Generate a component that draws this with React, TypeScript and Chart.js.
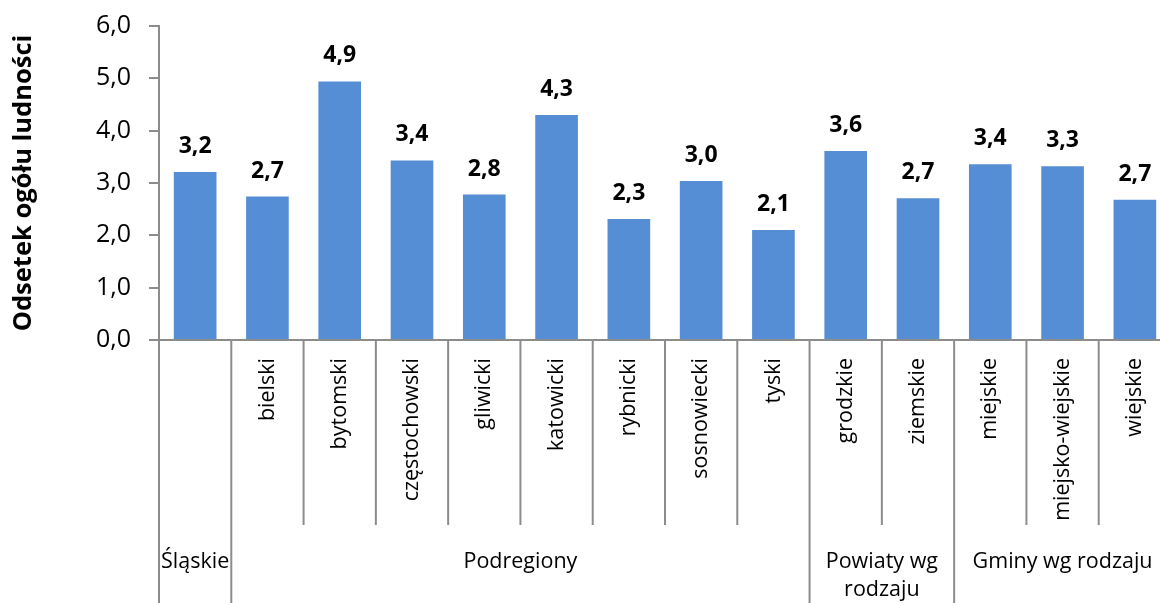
import React, { useEffect, useRef } from 'react';
import { Chart, registerables } from 'chart.js';

Chart.register(...registerables);

// ---- data ----
const categories: string[] = [
  '',
  'bielski',
  'bytomski',
  'częstochowski',
  'gliwicki',
  'katowicki',
  'rybnicki',
  'sosnowiecki',
  'tyski',
  'grodzkie',
  'ziemskie',
  'miejskie',
  'miejsko-wiejskie',
  'wiejskie',
];
const values: number[] = [3.21, 2.74, 4.94, 3.43, 2.78, 4.3, 2.31, 3.04, 2.1, 3.61, 2.71, 3.36, 3.32, 2.68];
const groupLabels: string[] = ['Śląskie', 'Podregiony', 'Powiaty wg\nrodzaju', 'Gminy wg rodzaju'];
const groupSizes: number[] = [1, 8, 2, 3];
const yTicks: number[] = [0, 1, 2, 3, 4, 5, 6];
const yTitle = 'Odsetek ogółu ludności';

const FONT = "'Open Sans', 'Noto Sans', sans-serif";
const AXIS = '#8c8c8c';
const BAR = '#558ED5';

const fmt = (v: number) => v.toFixed(1).replace('.', ',');

const groupPlugin = {
  id: 'groupAxis',
  afterDraw(chart: any) {
    const { ctx, chartArea, scales } = chart;
    const x = scales.x;
    const n = categories.length;
    const half = (x.getPixelForValue(1) - x.getPixelForValue(0)) / 2;
    const boundary = (i: number) => (i < n ? x.getPixelForValue(i) - half : x.getPixelForValue(n - 1) + half);
    const starts: number[] = [];
    let acc = 0;
    groupSizes.forEach((s) => {
      starts.push(acc);
      acc += s;
    });
    ctx.save();
    ctx.strokeStyle = AXIS;
    ctx.lineWidth = 2;
    for (let i = 0; i <= n; i++) {
      const bx = boundary(i);
      const isLong = starts.includes(i) || i === n;
      ctx.beginPath();
      ctx.moveTo(bx, chartArea.bottom);
      ctx.lineTo(bx, isLong ? chart.height : chartArea.bottom + 185);
      ctx.stroke();
    }
    // group labels
    ctx.fillStyle = '#000';
    ctx.font = `21.5px ${FONT}`;
    ctx.textAlign = 'center';
    ctx.textBaseline = 'middle';
    groupLabels.forEach((label, g) => {
      const a = boundary(starts[g]);
      const b = boundary(starts[g] + groupSizes[g]);
      const cx = (a + b) / 2;
      label.split('\n').forEach((line, li) => {
        ctx.fillText(line, cx, chartArea.bottom + 222 + li * 28);
      });
    });
    // data labels
    ctx.font = `bold 23px ${FONT}`;
    ctx.textBaseline = 'alphabetic';
    const meta = chart.getDatasetMeta(0);
    meta.data.forEach((bar: any, i: number) => {
      ctx.fillText(fmt(values[i]), bar.x, bar.y - 19);
    });
    ctx.restore();
  },
};

export default function App() {
  const ref = useRef<HTMLCanvasElement>(null);
  useEffect(() => {
    const canvas = ref.current;
    if (!canvas) return;
    Chart.defaults.font.family = FONT;
    const chart = new Chart(canvas, {
      type: 'bar',
      data: {
        labels: categories,
        datasets: [
          {
            data: values,
            backgroundColor: BAR,
            borderWidth: 0,
            barPercentage: 0.59,
            categoryPercentage: 1,
          },
        ],
      },
      options: {
        animation: false,
        responsive: false,
        devicePixelRatio: 1,
        layout: { padding: { top: 26, right: 20, bottom: 0, left: 0 } },
        plugins: { legend: { display: false }, tooltip: { enabled: false } },
        scales: {
          x: {
            grid: { display: false, drawTicks: false },
            border: { display: true, color: AXIS, width: 2 },
            ticks: {
              autoSkip: false,
              minRotation: 90,
              maxRotation: 90,
              padding: 18,
              color: '#000',
              font: { family: FONT, size: 21.5 },
            },
            afterFit: (s: any) => {
              s.height = 263;
            },
          },
          y: {
            min: yTicks[0],
            max: yTicks[yTicks.length - 1],
            afterBuildTicks: (s: any) => {
              s.ticks = yTicks.map((v) => ({ value: v }));
            },
            ticks: {
              padding: 18,
              color: '#000',
              font: { family: FONT, size: 25 },
              callback: (v: any) => fmt(Number(v)),
            },
            grid: { drawOnChartArea: false, drawTicks: true, tickLength: 10, color: AXIS, lineWidth: 2 },
            border: { display: true, color: AXIS, width: 2 },
            title: {
              display: true,
              text: yTitle,
              color: '#000',
              font: { family: FONT, size: 25.5, weight: 'bold' },
              padding: { top: 8, bottom: 0 },
            },
            afterFit: (s: any) => {
              s.width = 159;
              s.paddingTop = 0;
              s.paddingBottom = 0;
            },
          },
        },
      },
      plugins: [groupPlugin],
    } as any);
    return () => chart.destroy();
  }, []);
  return (
    <div
      style={{
        position: 'absolute',
        left: 0,
        top: 0,
        width: 1160,
        height: 603,
        overflow: 'hidden',
        background: '#fff',
      }}
    >
      <canvas ref={ref} width={1191} height={603} style={{ display: 'block', width: 1191, height: 603 }} />
    </div>
  );
}
